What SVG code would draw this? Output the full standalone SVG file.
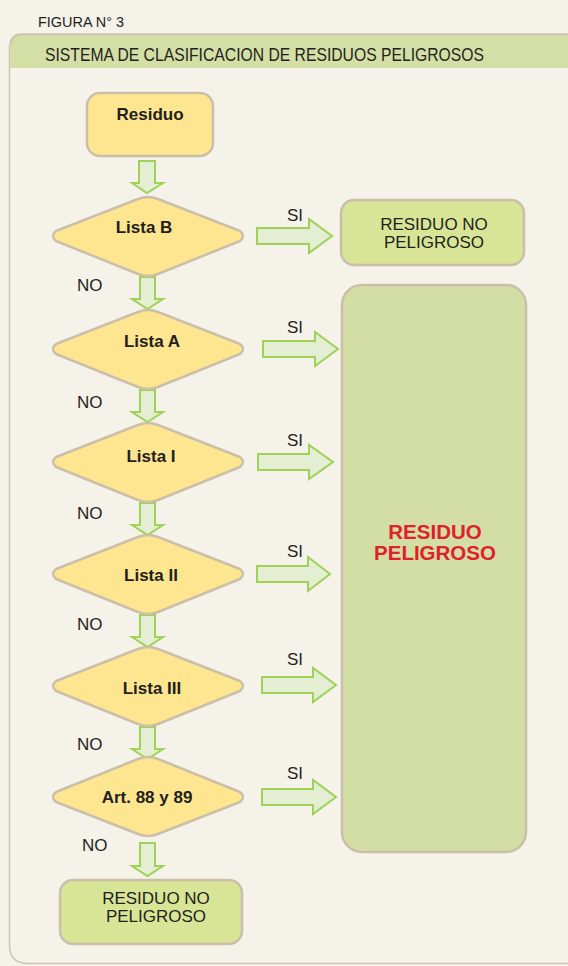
<svg xmlns="http://www.w3.org/2000/svg" width="568" height="966" viewBox="0 0 568 966">
<defs>
<style>
.t{font-family:"Liberation Sans",Arial,sans-serif;fill:#231f20}
.b{font-weight:bold;font-size:17px}
.n{font-size:17px}
.dia{fill:#fde68f;stroke:#cbbfa9;stroke-width:2.5;stroke-linejoin:round}
.arr{fill:#e4eed3;stroke:#9fd157;stroke-width:2;stroke-linejoin:miter}
.gbox{fill:#d8e597;stroke:#cbbfa9;stroke-width:2.5}
.red{font-family:"Liberation Sans",Arial,sans-serif;font-weight:bold;font-size:20.5px;fill:#e0202a}
</style>
</defs>
<rect width="568" height="966" fill="#f5f2ea"/>
<g id="frame">
<path d="M10.3 68 V46 Q10.3 34.3 22 34.3 H580 V68 Z" fill="#d3dfa5"/>
<path d="M10.3 46 Q10.3 34.3 22 34.3 H580" fill="none" stroke="#cdc4b1" stroke-width="2"/>
<path d="M9.5 46 V945 Q9.5 963.5 28 963.5 H580" fill="none" stroke="#cdc4b1" stroke-width="1.5"/>
<text class="t" x="38" y="27" font-size="15" textLength="86" lengthAdjust="spacingAndGlyphs">FIGURA N° 3</text>
<text class="t" x="45" y="61" font-size="18.5" textLength="439" lengthAdjust="spacingAndGlyphs">SISTEMA DE CLASIFICACION DE RESIDUOS PELIGROSOS</text>
</g>
<g id="connectors">
<path class="arr" d="M139 161 H155 V183 H163 L147 193 L132 183 H139 Z"/>
<path class="arr" d="M140 277 H155 V299 H163 L147.5 309 L132 299 H140 Z"/>
<path class="arr" d="M140 390 H155 V412 H163 L147.5 422 L132 412 H140 Z"/>
<path class="arr" d="M140 503 H155 V525 H163 L147.5 535 L132 525 H140 Z"/>
<path class="arr" d="M140 615 H155 V637 H163 L147.5 647 L132 637 H140 Z"/>
<path class="arr" d="M140 727 H155 V749 H163 L147.5 759 L132 749 H140 Z"/>
<path class="arr" d="M140 843 H155 V866 H163 L147.5 876 L132 866 H140 Z"/>
<path class="arr" d="M257 228 H309 V219 L332 236 L309 253 V244 H257 Z"/>
<path class="arr" d="M263 341 H315 V332 L338 349 L315 366 V357 H263 Z"/>
<path class="arr" d="M258 454 H309 V445 L333 462 L309 479 V470 H258 Z"/>
<path class="arr" d="M257 566 H308 V557 L330 574 L308 591 V582 H257 Z"/>
<path class="arr" d="M262 677 H313 V668 L336 685 L313 702 V693 H262 Z"/>
<path class="arr" d="M262 789 H313 V780 L336 797 L313 814 V805 H262 Z"/>
<text class="t n" x="287" y="221">SI</text>
<text class="t n" x="287" y="333">SI</text>
<text class="t n" x="287" y="446">SI</text>
<text class="t n" x="287" y="557">SI</text>
<text class="t n" x="287" y="665">SI</text>
<text class="t n" x="287" y="779">SI</text>
<text class="t n" x="77" y="291">NO</text>
<text class="t n" x="77" y="408">NO</text>
<text class="t n" x="77" y="519">NO</text>
<text class="t n" x="77" y="630">NO</text>
<text class="t n" x="77" y="750">NO</text>
<text class="t n" x="82" y="851">NO</text>
</g>
<g id="residuo">
<rect x="87" y="93" width="126" height="63" rx="13" fill="#fde68f" stroke="#cbbfa9" stroke-width="2.5"/>
<text class="t b" x="150" y="120" text-anchor="middle">Residuo</text>
</g>
<g id="listaB">
<path class="dia" d="M148 197 Q153 197 158 199 L240 231 Q246 236 240 241 L158 274 Q148 278 138 274 L56 241 Q50 236 56 231 L138 199 Q143 197 148 197 Z"/>
<text class="t b" x="144" y="233" text-anchor="middle">Lista B</text>
</g>
<g id="listaA">
<path class="dia" d="M148 310 Q153 310 158 312 L240 344 Q246 349 240 354 L158 387 Q148 391 138 387 L56 354 Q50 349 56 344 L138 312 Q143 310 148 310 Z"/>
<text class="t b" x="152" y="347" text-anchor="middle">Lista A</text>
</g>
<g id="listaI">
<path class="dia" d="M148 423 Q153 423 158 425 L240 457 Q246 462 240 467 L158 500 Q148 504 138 500 L56 467 Q50 462 56 457 L138 425 Q143 423 148 423 Z"/>
<text class="t b" x="151" y="462" text-anchor="middle">Lista I</text>
</g>
<g id="listaII">
<path class="dia" d="M148 535 Q153 535 158 537 L240 569 Q246 574 240 579 L158 612 Q148 616 138 612 L56 579 Q50 574 56 569 L138 537 Q143 535 148 535 Z"/>
<text class="t b" x="151" y="581" text-anchor="middle">Lista II</text>
</g>
<g id="listaIII">
<path class="dia" d="M148 647 Q153 647 158 649 L240 681 Q246 686 240 691 L158 724 Q148 728 138 724 L56 691 Q50 686 56 681 L138 649 Q143 647 148 647 Z"/>
<text class="t b" x="152" y="694" text-anchor="middle">Lista III</text>
</g>
<g id="art">
<path class="dia" d="M148 757 Q153 757 158 759 L240 792 Q246 797 240 802 L158 834 Q148 838 138 834 L56 802 Q50 797 56 792 L138 759 Q143 757 148 757 Z"/>
<text class="t b" x="147" y="803" text-anchor="middle">Art. 88 y 89</text>
</g>
<g id="noPeligroso1">
<rect x="341" y="200" width="183" height="65" rx="13" class="gbox"/>
<text class="t n" x="434" y="230" text-anchor="middle">RESIDUO NO</text>
<text class="t n" x="434" y="248" text-anchor="middle">PELIGROSO</text>
</g>
<g id="peligroso">
<rect x="342" y="285" width="184" height="567" rx="20" fill="#d2dea4" stroke="#cbbfa9" stroke-width="2.5"/>
<text class="red" x="435" y="539" text-anchor="middle">RESIDUO</text>
<text class="red" x="435" y="560" text-anchor="middle">PELIGROSO</text>
</g>
<g id="noPeligroso2">
<rect x="60" y="880" width="182" height="64" rx="13" class="gbox"/>
<text class="t n" x="156" y="904" text-anchor="middle">RESIDUO NO</text>
<text class="t n" x="156" y="922" text-anchor="middle">PELIGROSO</text>
</g>
</svg>
